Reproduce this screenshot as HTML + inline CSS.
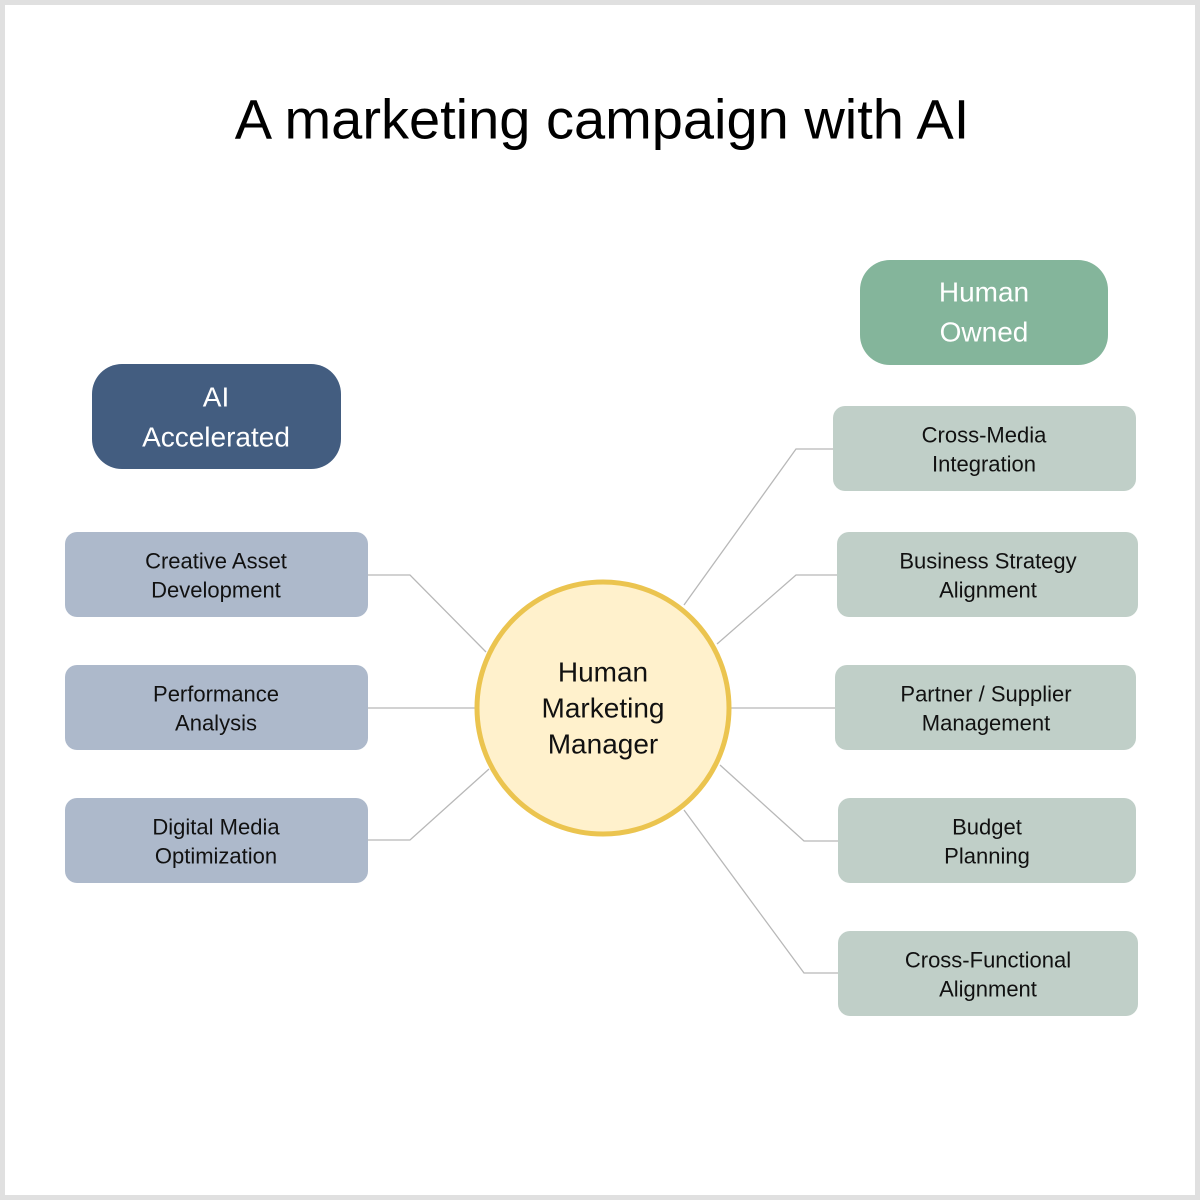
<!DOCTYPE html>
<html><head><meta charset="utf-8"><style>
html,body{margin:0;padding:0;background:#fff}
svg{display:block}
text{font-family:"Liberation Sans",sans-serif;text-anchor:middle;dominant-baseline:central}
</style></head><body>
<svg width="1200" height="1200" viewBox="0 0 1200 1200" xmlns="http://www.w3.org/2000/svg">
<rect x="0" y="0" width="1200" height="1200" fill="#fff"/>
<rect x="2.5" y="2.5" width="1195" height="1195" fill="none" stroke="#e0e0e0" stroke-width="5"/>
<text x="602" y="119" font-size="56" fill="#000">A marketing campaign with AI</text>
<g fill="none" stroke="#b8b8b8" stroke-width="1.3">
<polyline points="368,575 410,575 486,652"/>
<polyline points="368,708 475,708"/>
<polyline points="368,840 410,840 489,769"/>
<polyline points="833,449 796,449 684,605"/>
<polyline points="837,575 796,575 717,644"/>
<polyline points="731,708 835,708"/>
<polyline points="838,841 804,841 720,765"/>
<polyline points="838,973 804,973 684,810"/>
</g>
<rect x="92" y="364" width="249" height="105" rx="30" fill="#435d80"/>
<text x="216" y="397" font-size="28" fill="#fff">AI</text>
<text x="216" y="437" font-size="28" fill="#fff">Accelerated</text>
<rect x="860" y="260" width="248" height="105" rx="30" fill="#84b59b"/>
<text x="984" y="292" font-size="28" fill="#fff">Human</text>
<text x="984" y="332" font-size="28" fill="#fff">Owned</text>
<g fill="#adb9cb">
<rect x="65" y="532" width="303" height="85" rx="12"/>
<rect x="65" y="665" width="303" height="85" rx="12"/>
<rect x="65" y="798" width="303" height="85" rx="12"/>
</g>
<g fill="#c0cfc8">
<rect x="833" y="406" width="303" height="85" rx="12"/>
<rect x="837" y="532" width="301" height="85" rx="12"/>
<rect x="835" y="665" width="301" height="85" rx="12"/>
<rect x="838" y="798" width="298" height="85" rx="12"/>
<rect x="838" y="931" width="300" height="85" rx="12"/>
</g>
<g font-size="22" fill="#111">
<text x="216" y="561">Creative Asset</text><text x="216" y="590">Development</text>
<text x="216" y="694">Performance</text><text x="216" y="723">Analysis</text>
<text x="216" y="827">Digital Media</text><text x="216" y="856">Optimization</text>
<text x="984" y="435">Cross-Media</text><text x="984" y="464">Integration</text>
<text x="988" y="561">Business Strategy</text><text x="988" y="590">Alignment</text>
<text x="986" y="694">Partner / Supplier</text><text x="986" y="723">Management</text>
<text x="987" y="827">Budget</text><text x="987" y="856">Planning</text>
<text x="988" y="960">Cross-Functional</text><text x="988" y="989">Alignment</text>
</g>
<circle cx="603" cy="708" r="126" fill="#fff1cc" stroke="#ebc44f" stroke-width="5"/>
<g font-size="28" fill="#111">
<text x="603" y="672">Human</text>
<text x="603" y="708">Marketing</text>
<text x="603" y="744">Manager</text>
</g>
</svg>
</body></html>
